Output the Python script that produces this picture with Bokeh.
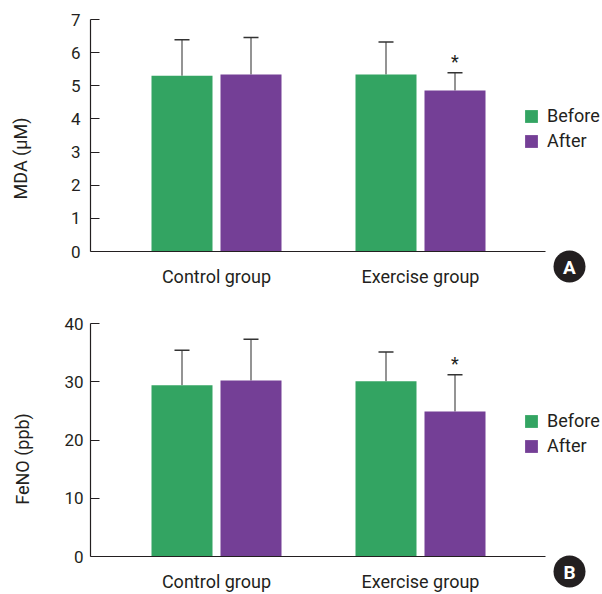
from bokeh.plotting import figure
from bokeh.models import (ColumnDataSource, Whisker, TeeHead, Legend, LegendItem,
                          FixedTicker, Range1d)
from bokeh.layouts import column
from bokeh.embed import file_html
from bokeh.resources import INLINE
from bokeh.core.properties import value

# ---------------- data ----------------
groups = ["Control group", "Exercise group"]
series = ["Before", "After"]

mda_before = [5.30, 5.34]
mda_before_upper = [6.39, 6.32]
mda_after = [5.34, 4.86]
mda_after_upper = [6.46, 5.39]
mda_sig = ["", "*"]
mda_ticks = [0, 1, 2, 3, 4, 5, 6, 7]

feno_before = [29.4, 30.1]
feno_before_upper = [35.4, 35.1]
feno_after = [30.2, 24.9]
feno_after_upper = [37.3, 31.2]
feno_sig = ["", "*"]
feno_ticks = [0, 10, 20, 30, 40]

# ---------------- style / geometry ----------------
GREEN = "#33a462"
PURPLE = "#743f96"
TEXT = "#231f20"
FONT = "Roboto"
W = 602
LEFT = 90            # frame left (px)
GROUP_PX = 204       # px between group centres
FIRST_GROUP_PX = 216 # px of first group centre
AXIS_END_PX = 545    # x axis line ends here
BAR_W = 61 / GROUP_PX
OFFSET = 34.5 / GROUP_PX


def px_to_x(px):
    return (px - FIRST_GROUP_PX) / GROUP_PX


def make_panel(before, before_up, after, after_up, sig, ticks, ylabel, badge,
               height, top_px, zero_px, tick_standoff, label_standoff, legend_y,
               badge_px):
    idx = list(range(len(groups)))
    ymax = ticks[-1]
    scale = (zero_px - top_px) / ymax          # px per unit
    ystart = -(height - zero_px) / scale

    def px_to_y(py):
        return (zero_px - py) / scale

    p = figure(width=W, height=height, output_backend="svg", toolbar_location=None,
               x_range=Range1d(px_to_x(LEFT), px_to_x(W)),
               y_range=Range1d(ystart, ymax),
               min_border_left=LEFT, min_border_right=0, min_border_top=top_px,
               min_border_bottom=0)
    p.outline_line_color = None
    p.grid.grid_line_color = None
    p.background_fill_color = None
    p.border_fill_color = None

    src_b = ColumnDataSource(dict(x=[i - OFFSET for i in idx], top=before, up=before_up))
    src_a = ColumnDataSource(dict(x=[i + OFFSET for i in idx], top=after, up=after_up,
                                  sig=sig))

    rb = p.vbar(x="x", top="top", bottom=0, width=BAR_W, source=src_b,
                fill_color=GREEN, line_color=None)
    ra = p.vbar(x="x", top="top", bottom=0, width=BAR_W, source=src_a,
                fill_color=PURPLE, line_color=None)

    for s in (src_b, src_a):
        w = Whisker(source=s, base="x", lower="top", upper="up", dimension="height",
                    line_color="#707070", line_width=1.5, lower_head=None,
                    upper_head=TeeHead(size=15, line_color="#333333", line_width=1.5))
        p.add_layout(w)

    p.text(x="x", y="up", text="sig", source=src_a, y_offset=-11,
           text_font=value(FONT), text_font_size="18px", text_color=TEXT,
           text_align="center", text_baseline="middle")

    # y axis
    ya = p.yaxis[0]
    ya.ticker = FixedTicker(ticks=ticks)
    ya.bounds = (0, ymax)
    ya.major_tick_in = 9
    ya.major_tick_out = 0
    ya.minor_tick_line_color = None
    ya.axis_line_color = TEXT
    ya.axis_line_width = 1.2
    ya.major_tick_line_color = TEXT
    ya.major_tick_line_width = 1.2
    ya.major_label_text_font = FONT
    ya.major_label_text_font_size = "17px"
    ya.major_label_text_color = TEXT
    ya.major_label_standoff = tick_standoff
    ya.axis_label = ylabel
    ya.axis_label_text_font = FONT
    ya.axis_label_text_font_size = "18px"
    ya.axis_label_text_font_style = "normal"
    ya.axis_label_text_color = TEXT
    ya.axis_label_standoff = label_standoff

    # x axis (drawn at y = 0)
    xa = p.xaxis[0]
    xa.fixed_location = 0
    xa.ticker = FixedTicker(ticks=idx)
    xa.major_label_overrides = {i: g for i, g in zip(idx, groups)}
    xa.bounds = (px_to_x(LEFT), px_to_x(AXIS_END_PX))
    xa.major_tick_line_color = None
    xa.minor_tick_line_color = None
    xa.major_tick_out = 0
    xa.major_tick_in = 0
    xa.axis_line_color = TEXT
    xa.axis_line_width = 1.2
    xa.major_label_text_font = FONT
    xa.major_label_text_font_size = "18px"
    xa.major_label_text_color = TEXT
    xa.major_label_standoff = 14

    legend = Legend(items=[LegendItem(label=series[0], renderers=[rb]),
                           LegendItem(label=series[1], renderers=[ra])],
                    location=(433, legend_y), orientation="vertical",
                    glyph_width=16, glyph_height=16, label_standoff=8, spacing=4,
                    padding=0, margin=0, border_line_color=None,
                    background_fill_alpha=0, label_text_font=FONT,
                    label_text_font_size="18px", label_text_color=TEXT,
                    label_height=16)
    p.add_layout(legend)

    bx, by = px_to_x(badge_px[0]), px_to_y(badge_px[1])
    p.scatter(x=[bx], y=[by], size=32, marker="circle", fill_color=TEXT, line_color=None)
    p.text(x=[bx], y=[by], text=[badge], text_font=value(FONT), text_font_style="bold",
           text_font_size="19px", text_color="white", text_align="center",
           text_baseline="middle", y_offset=1)
    return p


pA = make_panel(mda_before, mda_before_upper, mda_after, mda_after_upper, mda_sig,
                mda_ticks, "MDA (μM)", "A", height=297, top_px=19, zero_px=251,
                tick_standoff=10, label_standoff=37, legend_y=146, badge_px=(569, 266))
pB = make_panel(feno_before, feno_before_upper, feno_after, feno_after_upper, feno_sig,
                feno_ticks, "FeNO (ppb)", "B", height=297, top_px=26, zero_px=259,
                tick_standoff=7, label_standoff=28, legend_y=138, badge_px=(569, 274))

layout = column(pA, pB, spacing=0)
open("out.html", "w").write(file_html(layout, INLINE))
